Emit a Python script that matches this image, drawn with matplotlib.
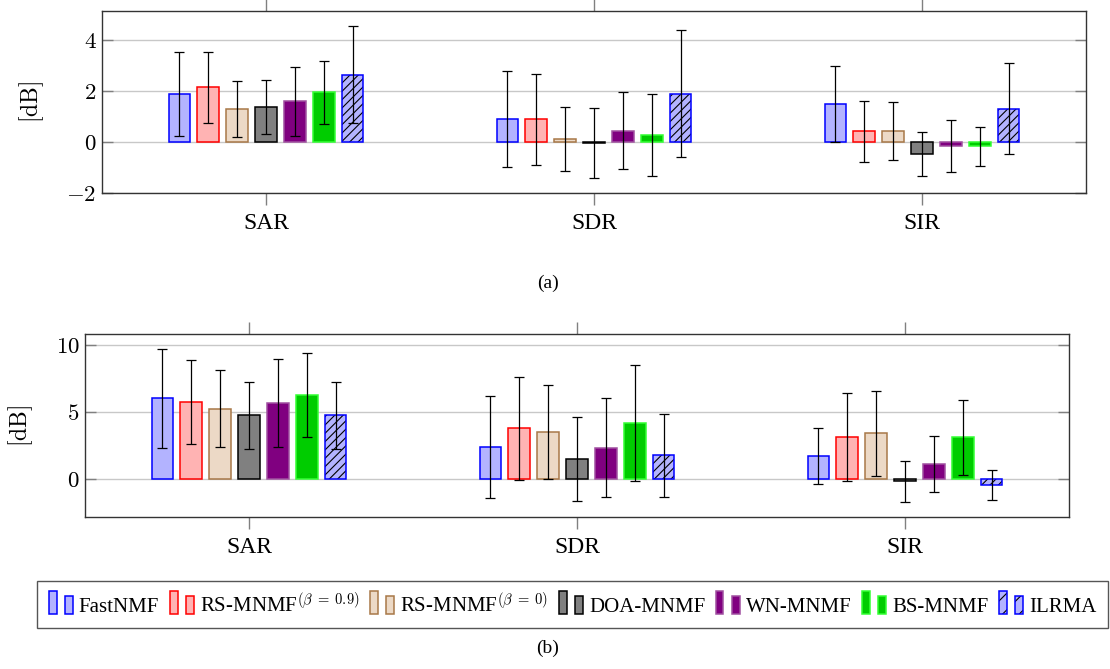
import numpy as np
import matplotlib
matplotlib.use('Agg')
import matplotlib.pyplot as plt
from matplotlib.patches import Rectangle, Patch
from matplotlib.legend_handler import HandlerBase

plt.rcParams.update({'font.family': 'Liberation Serif', 'mathtext.fontset': 'cm',
                     'hatch.linewidth': 0.8})

metrics = ['SAR', 'SDR', 'SIR']
methods = ['FastNMF', r'RS-MNMF$^{(\beta\;=\;0.9)}$', r'RS-MNMF$^{(\beta\;=\;0)}$',
           'DOA-MNMF', 'WN-MNMF', 'BS-MNMF', 'ILRMA']

# (a) mean and std per method, order SAR / SDR / SIR
mean_a = [[1.89, 0.91, 1.51],
          [2.15, 0.89, 0.43],
          [1.31, 0.13, 0.43],
          [1.37, -0.04, -0.47],
          [1.60, 0.45, -0.16],
          [1.95, 0.28, -0.16],
          [2.65, 1.90, 1.32]]
std_a = [[1.64, 1.88, 1.49],
         [1.40, 1.78, 1.20],
         [1.10, 1.25, 1.13],
         [1.07, 1.37, 0.87],
         [1.37, 1.50, 1.01],
         [1.25, 1.60, 0.76],
         [1.91, 2.50, 1.78]]

# (b)
mean_b = [[6.02, 2.41, 1.74],
          [5.77, 3.78, 3.13],
          [5.25, 3.51, 3.41],
          [4.75, 1.52, -0.15],
          [5.67, 2.34, 1.14],
          [6.27, 4.20, 3.11],
          [4.75, 1.79, -0.40]]
std_b = [[3.67, 3.80, 2.09],
         [3.11, 3.81, 3.28],
         [2.87, 3.50, 3.13],
         [2.49, 3.10, 1.54],
         [3.26, 3.67, 2.10],
         [3.10, 4.32, 2.80],
         [2.49, 3.10, 1.11]]

faces = ['#b3b3ff', '#ffb3b3', '#ecd9c6', '#808080', '#800080', '#00cc00', '#b3b3ff']
edges = ['#0000ff', '#ff0000', '#a87848', '#000000', '#a050a0', '#33ff33', '#0000ff']
hatches = [None, None, None, None, None, None, '////']

STEP = 0.088
WIDTH = 0.066
TICKC = '#808080'


def draw_panel(ax, means, stds, yticks, ylim):
    x = np.arange(len(metrics))
    for i in range(len(methods)):
        xi = x + (i - 3) * STEP
        ekw = dict(ecolor='black', elinewidth=0.9, capsize=3.8, capthick=0.9, zorder=4)
        if hatches[i]:
            ax.bar(xi, means[i], WIDTH, color=faces[i], edgecolor='black', lw=0,
                   hatch=hatches[i], zorder=2)
            ax.bar(xi, means[i], WIDTH, fill=False, edgecolor=edges[i], lw=1.1,
                   yerr=stds[i], error_kw=ekw, zorder=3)
        else:
            ax.bar(xi, means[i], WIDTH, color=faces[i], edgecolor=edges[i], lw=1.1,
                   yerr=stds[i], error_kw=ekw, zorder=3)
    ax.set_xlim(-0.5, 2.5)
    ax.set_ylim(*ylim)
    ax.set_xticks(x)
    ax.set_xticklabels(metrics, fontsize=17)
    ax.set_yticks(yticks)
    ax.set_yticklabels([f'${v}$' for v in yticks], fontsize=16.5)
    ax.tick_params(axis='x', direction='out', length=8.5, width=1, color=TICKC,
                   top=True, bottom=True, pad=6)
    ax.tick_params(axis='y', direction='in', length=8, width=1, color=TICKC,
                   left=True, right=True, pad=4)
    ax.yaxis.grid(True, color='#c8c8c8', lw=1)
    ax.set_axisbelow(True)
    ax.set_ylabel(r'$\mathrm{[dB]}$', fontsize=17, labelpad=15)
    for s in ax.spines.values():
        s.set_color('#333333'); s.set_linewidth(1)


class TwoBars(HandlerBase):
    def create_artists(self, legend, orig, xd, yd, width, height, fontsize, trans):
        w = 0.38 * fontsize
        arts = []
        base = -yd - 0.12 * height
        for x0, hh in [(-xd, 1.55 * height), (-xd + width - w, 1.18 * height)]:
            if orig.get_hatch():
                r1 = Rectangle((x0, base), w, hh, facecolor=orig.get_facecolor(),
                               edgecolor='black', lw=0, hatch='//', transform=trans)
                r2 = Rectangle((x0, base), w, hh, fill=False,
                               edgecolor=orig.get_edgecolor(), lw=1.1, transform=trans)
                arts += [r1, r2]
            else:
                arts.append(Rectangle((x0, base), w, hh, facecolor=orig.get_facecolor(),
                                      edgecolor=orig.get_edgecolor(), lw=1.1, transform=trans))
        return arts


fig = plt.figure(figsize=(11.1, 6.69), dpi=100)
ax_a = fig.add_axes([0.0919, 0.7115, 0.8865, 0.2720])
ax_b = fig.add_axes([0.0766, 0.2272, 0.8865, 0.2735])
draw_panel(ax_a, mean_a, std_a, [-2, 0, 2, 4], (-2, 5.15))
draw_panel(ax_b, mean_b, std_b, [0, 5, 10], (-2.8, 10.8))

fig.text(0.4937, 1 - 283 / 669, '(a)', ha='center', va='center', fontsize=14)
fig.text(0.4937, 1 - 648 / 669, '(b)', ha='center', va='center', fontsize=14)

handles = [Patch(facecolor=faces[i], edgecolor=edges[i], hatch=hatches[i]) for i in range(len(methods))]
leg = fig.legend(handles, methods, loc='center', bbox_to_anchor=(0.5158, 1 - 604.5 / 669),
                 ncol=7, fontsize=15, frameon=True, fancybox=False, framealpha=1,
                 edgecolor='#555555', handlelength=1.15, handletextpad=0.3,
                 columnspacing=0.5, borderpad=0.55, borderaxespad=0,
                 handler_map={Patch: TwoBars()})
leg.get_frame().set_linewidth(1)

fig.savefig('out.png', dpi=100, facecolor='white')
